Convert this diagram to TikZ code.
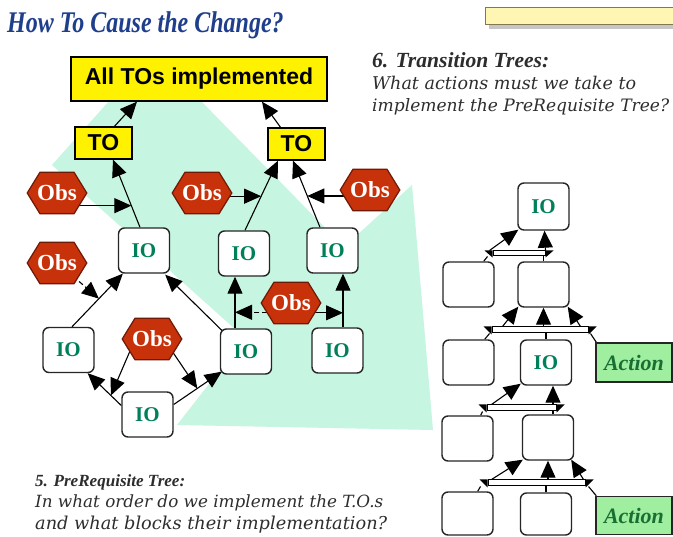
\documentclass[tikz,border=0pt]{standalone}
\usepackage{fontspec}
\setmainfont{Liberation Serif}
\newfontfamily\headsans{Liberation Sans}
\newfontfamily\notefont{DejaVu Serif}
\usetikzlibrary{arrows.meta,calc,shadows}

\definecolor{mint}{RGB}{198,245,225}
\definecolor{titleblue}{RGB}{31,63,140}
\definecolor{obsred}{RGB}{200,50,10}
\definecolor{obsedge}{RGB}{110,25,5}
\definecolor{iogreen}{RGB}{0,128,90}
\definecolor{actfill}{RGB}{160,238,160}
\definecolor{acttext}{RGB}{25,110,50}
\definecolor{notegray}{RGB}{45,45,45}
\definecolor{paleyellow}{RGB}{255,246,180}
\definecolor{paleedge}{RGB}{130,120,80}

\pgfdeclarelayer{back}
\pgfdeclarelayer{wires}
\pgfsetlayers{back,wires,main}

\tikzset{
  goal/.style={draw=black, line width=1.4pt, fill=yellow, inner sep=0pt,
    font=\headsans\bfseries\fontsize{23}{26}\selectfont},
  % obstacle: flat-topped hexagon drawn inside a plain rectangular node
  obs/.style={rectangle, minimum width=61pt, minimum height=43pt, inner sep=0pt,
    text=white, font=\bfseries\fontsize{23}{26}\selectfont,
    path picture={
      \filldraw[fill=obsred, draw=obsedge, line width=1.2pt]
        ($(path picture bounding box.west)+(0.7,0)$)
        -- ($(path picture bounding box.north west)+(13.5,0.7)$)
        -- ($(path picture bounding box.north east)+(-13.5,0.7)$)
        -- ($(path picture bounding box.east)+(-0.7,0)$)
        -- ($(path picture bounding box.south east)+(-13.5,-0.7)$)
        -- ($(path picture bounding box.south west)+(13.5,-0.7)$)
        -- cycle;
    }},
  iobox/.style={draw=black!85, line width=1.4pt, fill=white, rounded corners=6pt,
    minimum width=51pt, minimum height=45pt, inner sep=0pt, text=iogreen,
    font=\bfseries\fontsize{21}{24}\selectfont},
  actbox/.style={draw=black!85, line width=1.4pt, fill=actfill, minimum width=76pt,
    minimum height=39pt, inner sep=0pt, text=acttext,
    font=\bfseries\itshape\fontsize{22}{24}\selectfont},
  andbar/.style={draw=black, line width=1pt, fill=white, minimum height=5pt, inner sep=0pt},
  arr/.style={line width=1.1pt, -{Triangle[length=17pt,width=15pt]}},
  link/.style={line width=1.1pt},
  memo/.style={draw=paleedge, line width=1.2pt, fill=paleyellow, inner sep=0pt,
    drop shadow={shadow xshift=3pt, shadow yshift=-4pt, fill=gray!45, opacity=1}},
  note/.style={anchor=base west, inner sep=0pt, text=notegray},
}

\begin{document}
\begin{tikzpicture}[x=1pt, y=-1pt]
\useasboundingbox (0,0) rectangle (673,537);
\begin{pgfonlayer}{back}
  \fill[white] (0,0) rectangle (673,537);
  % shaded field behind the prerequisite tree
  \fill[mint] (52,165) -- (110,100) -- (200,100) -- (344,247) -- (412,185)
    -- (433,430) -- (177,425) -- (245,338) -- cycle;
\end{pgfonlayer}

% heading
\node[anchor=base west, inner sep=0pt, text=titleblue,
  font=\bfseries\itshape\fontsize{30}{33}\selectfont] (title) at (7,33)
  {\scalebox{0.8}[1]{How To Cause the Change?}};
\node[memo, anchor=north west, minimum width=200pt, minimum height=17pt] (memo) at (485,7) {};

% prerequisite tree: goals
\node[goal, minimum width=256pt, minimum height=44pt] (all) at (199,79) {All TOs implemented};
\node[goal, minimum width=57pt, minimum height=32pt] (tol) at (103.5,143) {TO};
\node[goal, minimum width=57pt, minimum height=32pt] (tor) at (296.5,144) {TO};

% obstacles
\node[obs] (obsA) at (57,193) {Obs};
\node[obs] (obsB) at (202,193) {Obs};
\node[obs] (obsC) at (370,190) {Obs};
\node[obs] (obsD) at (57,263) {Obs};
\node[obs] (obsE) at (152,339) {Obs};
\node[obs] (obsF) at (291,303) {Obs};

% intermediate objectives
\node[iobox] (ioA) at (144,250.5) {IO};
\node[iobox] (ioB) at (244,253.5) {IO};
\node[iobox] (ioC) at (332.5,250.5) {IO};
\node[iobox] (ioD) at (68.5,350) {IO};
\node[iobox] (ioE) at (246,351.5) {IO};
\node[iobox] (ioF) at (337.5,350.5) {IO};
\node[iobox] (ioG) at (147.5,414.5) {IO};

% transition tree
\node[iobox, minimum height=47pt] (t1) at (543.5,206.5) {IO};
\node[iobox] (t2) at (468.5,284.5) {};
\node[iobox] (t3) at (543.5,284.5) {};
\node[iobox] (t4) at (468.5,362.5) {};
\node[iobox] (t5) at (546,362.5) {IO};
\node[iobox] (t6) at (467.5,438.5) {};
\node[iobox] (t7) at (548,437.5) {};
\node[iobox, minimum height=43pt] (t8) at (467.5,513.5) {};
\node[iobox, minimum height=42pt] (t9) at (546,514) {};
\node[actbox] (act1) at (634,362.5) {Action};
\node[actbox, minimum height=38pt] (act2) at (634,515.5) {Action};

\node[andbar, minimum width=52pt] (bar1) at (519,253.5) {};
\node[andbar, minimum width=96pt, minimum height=6pt] (bar2) at (540,330) {};
\node[andbar, minimum width=69pt, minimum height=6pt] (bar3) at (521.5,408) {};
\node[andbar, minimum width=97pt, minimum height=6pt] (bar4) at (536.5,483) {};
\foreach \b in {bar1,bar2,bar3,bar4}{
  \fill (\b.north west) -- ++(-8,0) -- ($(\b.south west)+(0,1)$) -- cycle;
  \fill (\b.north east) -- ++(8,0) -- ($(\b.south east)+(0,1)$) -- cycle;
}

% explanatory texts
\node[note, font=\bfseries\itshape\fontsize{18}{20}\selectfont] (h6) at (372,68)
  {\resizebox{177pt}{!}{6. Transition Trees:}};
\node[note, font=\notefont\itshape\fontsize{16}{18}\selectfont] (q6a) at (372,90)
  {\resizebox{264pt}{!}{What actions must we take to}};
\node[note, font=\notefont\itshape\fontsize{16}{18}\selectfont] (q6b) at (372,112)
  {\resizebox{297pt}{!}{implement the PreRequisite Tree?}};
\node[note, font=\bfseries\itshape\fontsize{18}{20}\selectfont] (h5) at (35,487)
  {\resizebox{150pt}{!}{5. PreRequisite Tree:}};
\node[note, font=\notefont\itshape\fontsize{16}{18}\selectfont] (q5a) at (35,508)
  {\resizebox{348pt}{!}{In what order do we implement the T.O.s}};
\node[note, font=\notefont\itshape\fontsize{16}{18}\selectfont] (q5b) at (35,530)
  {\resizebox{352pt}{!}{and what blocks their implementation?}};

\begin{pgfonlayer}{wires}
  % goals
  \draw[arr] ($(tol.north)+(11,0)$) -- ($(all.south)+(-62,0)$);
  \draw[arr] ($(tor.north)+(-16,0)$) -- ($(all.south)+(63,0)$);
  \draw[arr] ($(ioA.north)+(-4,0)$) -- ($(tol.south)+(9.5,0)$) coordinate[pos=0.32] (jA);
  \draw[arr] ($(ioB.north)+(1,0)$) -- ($(tor.south)+(-18.5,0)$) coordinate[pos=0.49] (jB);
  \draw[arr] ($(ioC.north)+(-12.5,0)$) -- ($(tor.south)+(-3.5,0)$) coordinate[pos=0.47] (jC);
  \draw[arr] (obsA.center |- jA) -- (jA);
  \draw[arr] (obsB.center |- jB) -- (jB);
  \draw[arr] (obsC.center |- jC) -- (jC);
  % lower objectives
  \draw[arr] ($(ioD.north)+(3.5,0)$) -- ($(ioA.south west)+(5,0)$) coordinate[pos=0.53] (jD);
  \draw[arr, dash pattern=on 5pt off 3pt] ($(obsD.center)+(10,8)$) -- (jD);
  \draw[arr] ($(ioE.north west)+(3,3)$) -- ($(ioA.south east)+(-5,1)$);
  \draw[arr] ($(ioE.north)+(-11,0)$) -- ($(ioB.south)+(-9,0)$) coordinate[pos=0.31] (jE);
  \draw[arr] ($(ioF.north)+(5.5,0)$) -- ($(ioC.south)+(10.5,0)$) coordinate[pos=0.27] (jF);
  \draw[arr, dash pattern=on 5pt off 3pt] (obsF.center |- jE) -- (jE);
  \draw[arr] (obsF.center |- jF) -- (jF);
  \draw[arr] ($(ioG.west)+(0,-9)$) -- ($(ioD.south east)+(-7,0)$) coordinate[pos=0.31] (jG);
  \draw[arr] ($(ioG.east)+(0,-10)$) -- ($(ioE.south west)+(2,-3)$) coordinate[pos=0.49] (jH);
  \draw[arr] ($(obsE.center)+(-22,12)$) -- (jG);
  \draw[arr] ($(obsE.center)+(20,12)$) -- (jH);

  % transition tree, first step
  \draw[arr] ($(bar1.north west)+(-3,0)$) -- ($(t1.south west)+(1,-1)$);
  \draw[arr] (bar1.north east) -- ($(t1.south)+(1,0)$);
  \draw[link] ($(t2.north east)+(-11,0)$) -- ($(bar1.south west)+(-5,0)$);
  \draw[link] (t3.north) -- (t3.north |- bar1.south);
  % second step
  \draw[arr] ($(bar2.north west)+(11,0)$) -- ($(t3.south west)+(1,-1)$);
  \draw[arr] (t3.south |- bar2.north) -- (t3.south);
  \draw[arr] ($(bar2.north east)+(-8,0)$) -- ($(t3.south east)+(-2,-1)$);
  \draw[link] ($(t4.north east)+(-10,0)$) -- ($(bar2.south west)+(-2,0)$);
  \draw[link] (t5.north) -- (t5.north |- bar2.south);
  \draw[link] ($(act1.north west)+(1,0)$) -- ($(bar2.south east)+(2,0)$);
  % third step
  \draw[arr] ($(bar3.north west)+(5,0)$) -- ($(t5.south west)+(1,-2)$);
  \draw[arr] ($(t5.south |- bar3.north)+(7,0)$) -- ($(t5.south)+(7,0)$);
  \draw[link] ($(t6.north east)+(-13,0)$) -- ($(bar3.south west)+(-4,0)$);
  \draw[link] ($(t7.north)+(5,0)$) -- ($(t7.north |- bar3.south)+(5,0)$);
  % fourth step
  \draw[arr] ($(bar4.north west)+(4,0)$) -- ($(t7.south west)+(1,-1)$);
  \draw[arr] (t7.south |- bar4.north) -- (t7.south);
  \draw[arr] ($(bar4.north east)+(-2,0)$) -- ($(t7.south east)+(-3,-1)$);
  \draw[link] ($(t8.north east)+(-16,0)$) -- ($(bar4.south west)+(-7,0)$);
  \draw[link] (t9.north) -- (t9.north |- bar4.south);
  \draw[link] ($(act2.north west)+(1,0)$) -- ($(bar4.south east)+(3,0)$);
\end{pgfonlayer}
\end{tikzpicture}
\end{document}
